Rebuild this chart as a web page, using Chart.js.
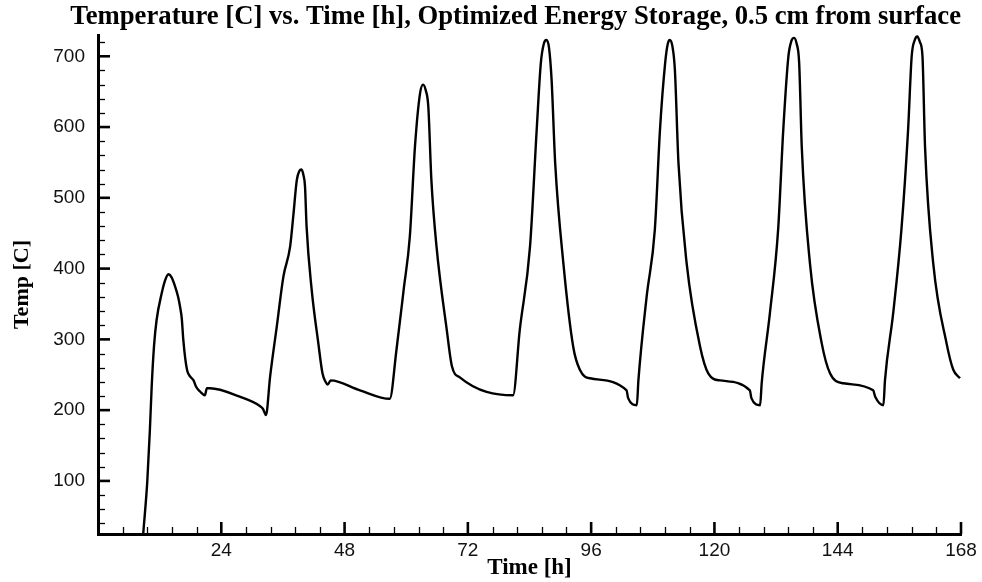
<!DOCTYPE html>
<html><head><meta charset="utf-8">
<script src="https://cdn.jsdelivr.net/npm/chart.js@4.4.0/dist/chart.umd.min.js"></script>
<style>html,body{margin:0;padding:0;background:#fff;} #wrap{width:982px;height:582px;}</style>
</head><body><div id="wrap"><canvas id="c" width="982" height="582"></canvas></div>
<script>
// ---- data ----
const timeHours = [
  8.8, 9.6, 10.1, 10.45, 10.9, 11.4, 12.4, 13.0, 13.7, 14.3, 15.0, 15.6, 16.0, 16.3, 16.6, 17.0, 17.4, 18.0, 18.6, 19.1, 19.9, 20.8, 21.2, 21.8,
  27.6, 31.5, 32.1, 32.7, 33.5, 34.8, 36.1, 37.4, 38.0, 38.7, 39.2, 39.6, 40.0, 40.3, 40.6, 41.6, 42.9, 43.7, 44.3, 44.7, 45.3,
  51.0, 56.8, 58.1, 59.5, 60.7, 61.7, 62.7, 63.3, 63.8, 64.3, 64.9, 65.9, 67.9, 68.9, 70.5,
  80.8, 82.1, 84.1, 85.4, 86.2, 86.8, 87.3, 87.8, 88.3, 89.0, 90.6, 92.5, 93.8, 95.8,
  102.9, 103.2, 104.9, 105.2, 106.8, 108.4, 109.4, 110.4, 110.9, 111.3, 111.8, 112.3, 113.0, 114.6, 117.2, 118.8, 121.1,
  126.9, 127.2, 128.9, 129.2, 130.8, 132.4, 133.4, 134.4, 135.0, 135.5, 136.0, 136.5, 137.0, 138.6, 140.9, 142.5, 145.1,
  150.9, 151.3, 152.9, 153.2, 154.8, 156.4, 157.7, 158.4, 159.0, 159.5, 160.0, 160.5, 161.0, 162.6, 165.2, 166.5, 167.8
];
const tempC = [
  25, 100, 172, 233, 290, 327, 365, 382, 392, 388, 375, 360, 345, 330, 300, 272, 255, 247, 242, 233, 226, 221, 231, 231,
  219, 206, 202, 193, 247, 318, 389, 431, 473, 525, 538, 540, 532, 516, 460, 370, 294, 252, 240, 236, 242,
  228, 216, 285, 370, 445, 572, 648, 660, 652, 629, 525, 431, 313, 262, 246,
  221, 313, 431, 596, 690, 718, 723, 712, 667, 549, 407, 290, 257, 245,
  228, 217, 207, 242, 360, 455, 596, 690, 717, 723, 715, 681, 549, 407, 290, 252, 242,
  228, 217, 207, 238, 337, 455, 596, 700, 722, 726, 718, 690, 572, 407, 294, 252, 238,
  228, 219, 207, 242, 337, 455, 596, 700, 723, 728, 720, 700, 572, 407, 294, 257, 245
];
const xTickValues = [24, 48, 72, 96, 120, 144, 168];
const yTickValues = [100, 200, 300, 400, 500, 600, 700];
const xMinorStep = 4.8;
const yMinorStep = 20;
const titleText = 'Temperature [C] vs. Time [h], Optimized Energy Storage, 0.5 cm from surface';
const xTitle = 'Time [h]';
const yTitle = 'Temp [C]';

const points = timeHours.map((t, i) => ({x: t, y: tempC[i]}));

const inwardTicks = {
  id: 'inwardTicks',
  afterDatasetsDraw(chart) {
    const {ctx, chartArea, scales} = chart;
    const x = scales.x, y = scales.y;
    ctx.save();
    ctx.strokeStyle = '#000';
    const seg = (x1, y1, x2, y2) => { ctx.beginPath(); ctx.moveTo(x1, y1); ctx.lineTo(x2, y2); ctx.stroke(); };
    ctx.lineWidth = 1.3;
    for (let v = x.min + xMinorStep; v < x.max - 0.01; v += xMinorStep) {
      if (xTickValues.some(m => Math.abs(m - v) < 0.01)) continue;
      const px = Math.round(x.getPixelForValue(v)) + 0.5;
      seg(px, chartArea.bottom, px, chartArea.bottom - 7);
    }
    for (let v = 40; v < y.max; v += yMinorStep) {
      if (yTickValues.some(m => Math.abs(m - v) < 0.01)) continue;
      const py = Math.round(y.getPixelForValue(v)) + 0.5;
      seg(chartArea.left, py, chartArea.left + 7, py);
    }
    ctx.lineWidth = 2.6;
    xTickValues.forEach(v => { const px = x.getPixelForValue(v); seg(px, chartArea.bottom, px, chartArea.bottom - 12); });
    yTickValues.forEach(v => { const py = y.getPixelForValue(v); seg(chartArea.left, py, chartArea.left + 12, py); });
    ctx.restore();
  }
};

new Chart(document.getElementById('c'), {
  type: 'line',
  data: {
    datasets: [{
      data: points,
      borderColor: '#000',
      borderWidth: 2.4,
      pointRadius: 0,
      fill: false,
      cubicInterpolationMode: 'monotone'
    }]
  },
  options: {
    responsive: false,
    animation: false,
    devicePixelRatio: 1,
    layout: { padding: { left: 0, right: 21, top: 0, bottom: 0 } },
    plugins: {
      legend: { display: false },
      tooltip: { enabled: false },
      title: {
        display: true,
        text: titleText,
        color: '#000',
        align: 'end',
        font: { family: 'Liberation Serif', size: 26.7, weight: 'bold' },
        padding: { top: 1, bottom: 2 },
        fullSize: true
      }
    },
    scales: {
      x: {
        type: 'linear',
        min: 0, max: 168,
        afterFit: s => { s.height = 48; },
        afterBuildTicks: s => { s.ticks = xTickValues.map(v => ({value: v})); },
        grid: { display: false, drawTicks: false },
        border: { display: true, color: '#000', width: 3 },
        ticks: { color: '#111', padding: 5, font: { family: 'Liberation Sans', size: 19 }, maxRotation: 0, autoSkip: false },
        title: { display: true, text: xTitle, color: '#000', font: { family: 'Liberation Serif', size: 23, weight: 'bold' }, padding: { top: 0, bottom: 0 } }
      },
      y: {
        type: 'linear',
        min: 25, max: 730,
        afterFit: s => { s.width = 98; },
        afterBuildTicks: s => { s.ticks = yTickValues.map(v => ({value: v})); },
        grid: { display: false, drawTicks: false },
        border: { display: true, color: '#000', width: 3 },
        ticks: { color: '#111', padding: 13, font: { family: 'Liberation Sans', size: 19 } },
        title: { display: true, text: yTitle, color: '#000', font: { family: 'Liberation Serif', size: 22, weight: 'bold' }, padding: { top: 9, bottom: 0 } }
      }
    }
  },
  plugins: [inwardTicks]
});
</script>
</body></html>
